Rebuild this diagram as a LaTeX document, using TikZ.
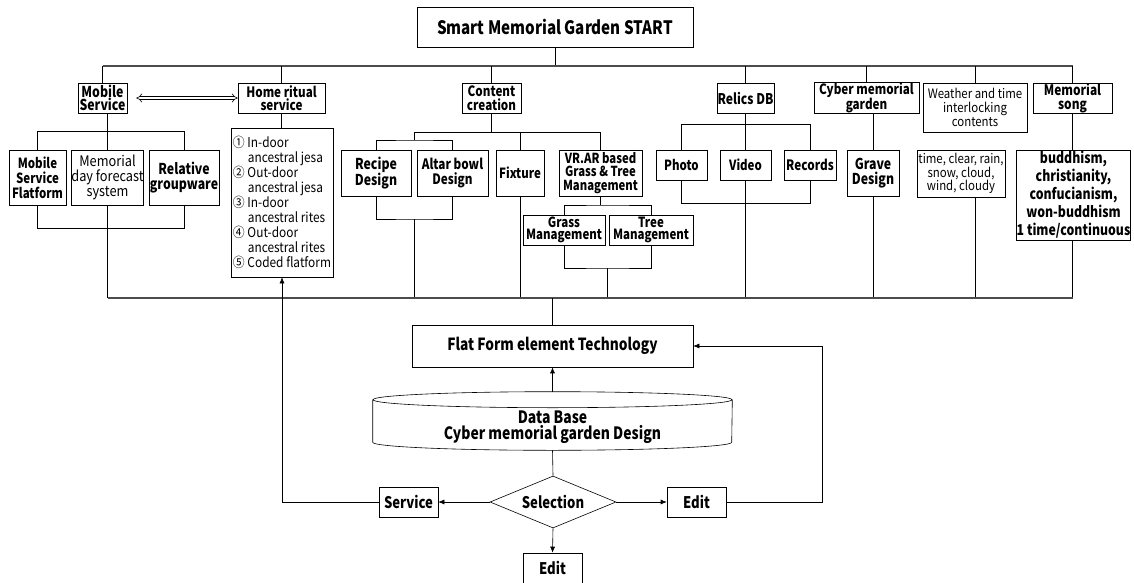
\documentclass[tikz,border=0pt]{standalone}
\usepackage{fontspec}
\setmainfont{Noto Sans CJK KR}[FakeStretch=0.88, BoldFeatures={FakeStretch=0.82}]
\usetikzlibrary{shapes.geometric,arrows.meta,calc}
\newcommand{\fsz}[2]{\fontsize{#1}{#2}\selectfont}
\tikzset{
  box/.style={draw, inner sep=0pt, align=center, font=\bfseries\fsz{14.2}{13.5}},
  sub/.style={box, font=\bfseries\fsz{15}{15}},
  plain/.style={box, font=\fsz{13}{14}},
  sz/.style 2 args={minimum width=#1pt, minimum height=#2pt},
  arr/.style={-{Latex[length=6pt,width=5pt]}},
  bus/.style={draw=black!70, line width=1.2pt}
}

\begin{document}
\begin{tikzpicture}[x=1pt, y=-1pt, line width=0.6pt]
      \useasboundingbox (0,0) rectangle (1134,583);
      \coordinate (busT) at (0,66);
      \coordinate (busB) at (0,298);
      \coordinate (ctop) at (414.5,140);
      \coordinate (cbot) at (414.5,219);
      \coordinate (vtop) at (607.5,205);
      \coordinate (vbot) at (607.5,268);
      \coordinate (back) at (822,0);

      \node[box, sz={276}{40}, font=\bfseries\fsz{18.5}{18}] (start) at (555,27) {Smart Memorial Garden START};

      \node[box, sz={49}{30}, font=\bfseries\fsz{15}{13.5}] (mob) at (102.5,98) {Mobile\\Service};
      \node[box, sz={87}{30}] (home) at (281.5,98) {Home ritual\\service};
      \node[box, sz={59}{30}] (content) at (491.5,98) {Content\\creation};
      \node[box, sz={57}{30}, font=\bfseries\fsz{14.7}{13.5}] (relics) at (745.5,98) {Relics DB};
      \node[box, sz={105}{30}] (cyber) at (866.5,98) {Cyber memorial\\garden};
      \node[plain, sz={104}{49}] (weather) at (975,107.5) {Weather and time\\interlocking\\contents};
      \node[box, sz={79}{30}, font=\bfseries\fsz{14.5}{13.5}] (song) at (1072.5,98) {Memorial\\song};

      \node[sub, sz={57}{55}, font=\bfseries\fsz{14}{15}] (msf) at (37.5,177.5) {Mobile\\Service\\Flatform};
      \node[plain, sz={71}{55}, font=\fsz{14.5}{15}] (mdf) at (107.5,177.5) {Memorial\\day forecast\\system};
      \node[sub, sz={70}{55}] (rg) at (184,177.5) {Relative\\groupware};
      \node[draw, sz={102}{149}, inner sep=0pt, align=left, font=\fsz{13.5}{15}] (rites) at (282,202.5)
        {① In-door\\\hspace*{1.1em}ancestral jesa\\② Out-door\\\hspace*{1.1em}ancestral jesa\\③ In-door\\\hspace*{1.1em}ancestral rites\\④ Out-door\\\hspace*{1.1em}ancestral rites\\⑤ Coded flatform};

      \node[sub, sz={70}{46}] (recipe) at (376,173) {Recipe\\Design};
      \node[sub, sz={71}{46}, font=\bfseries\fsz{14.3}{15}] (altar) at (452.5,173) {Altar bowl\\Design};
      \node[sub, sz={48}{46}, font=\bfseries\fsz{14}{15}] (fixture) at (520,173) {Fixture};
      \node[box, sz={83}{46}, font=\bfseries\fsz{13.8}{13.5}] (vr) at (600.5,173) {VR.AR based\\Grass \& Tree\\Management};
      \node[box, sz={82}{30}, font=\bfseries\fsz{14}{12.5}] (grass) at (564,230) {Grass\\Management};
      \node[box, sz={84}{30}, font=\bfseries\fsz{14}{12.5}] (tree) at (651,230) {Tree\\Management};

      \node[sub, sz={51}{30}, font=\bfseries\fsz{14}{15}] (photo) at (681.5,165) {Photo};
      \node[sub, sz={51}{30}, font=\bfseries\fsz{14}{15}] (video) at (745.5,165) {Video};
      \node[sub, sz={52}{30}, font=\bfseries\fsz{14.3}{15}] (records) at (810,165) {Records};
      \node[sub, sz={52}{46}] (grave) at (873,173) {Grave\\Design};
      \node[plain, sz={88}{47}, font=\fsz{13}{12}] (timeb) at (961,173.5) {time, clear, rain,\\snow, cloud,\\wind, cloudy};
      \node[sub, sz={113}{90}, font=\bfseries\fsz{15}{18}] (songs) at (1073.5,195) {buddhism,\\christianity,\\confucianism,\\won-buddhism\\1 time/continuous};

      \node[box, sz={281}{42}, font=\bfseries\fsz{16.7}{17}] (ff) at (552.5,346) {Flat Form element Technology};
      \node[sz={359}{46}, inner sep=0pt, align=center, font=\bfseries\fsz{17}{16}] (db) at (552.5,427) {Data Base\\Cyber memorial garden Design};
      \node[draw, diamond, aspect=2.4, sz={126}{52}, inner sep=0pt, font=\bfseries\fsz{16}{16}] (sel) at (553,502) {Selection};
      \node[box, sz={59}{30}, font=\bfseries\fsz{16}{16}] (service) at (408.5,502) {Service};
      \node[box, sz={59}{30}, font=\bfseries\fsz{16}{16}] (editr) at (696.5,502) {Edit};
      \node[box, sz={59}{30}, font=\bfseries\fsz{16}{16}] (editb) at (552.5,568) {Edit};
      \coordinate (dbtop) at ($(db.north)+(0,-12)$);

      \draw (start) -- (start |- busT);
      \draw[bus] (mob |- busT) -- (song |- busT);
      \foreach \n in {mob,home,content,relics,cyber,weather,song} {
        \draw (\n |- busT) -- (\n.north);
      }
      \draw[double, double distance=2.5pt, {Implies}-{Implies}, shorten <=9pt] (mob.east) -- (home.west);

      \draw (mob.south -| mdf) -- (mdf.north);
      \draw (msf.north) -- ++(0,-18) -| (rg.north);
      \draw (msf.south) -- ++(0,23) -| (rg.south);
      \draw (mdf.south) -- (mdf |- busB);
      \draw (home.south) -- (home.south |- rites.north);

      \draw (content.south) -- ++(0,19) coordinate (cmid);
      \draw (ctop) -- (ctop |- cmid) -- (vr |- cmid) -- (vr.north);
      \draw (fixture.north) -- (fixture |- cmid);
      \draw (recipe.north) |- (ctop) -| (altar.north);
      \draw (recipe.south) |- (cbot) -| (altar.south);
      \draw (cbot) -- (cbot |- busB);
      \draw (fixture.south) -- (fixture |- busB);
      \draw (vr.south) -- (vr.south |- vtop);
      \draw (grass.north) |- (vtop) -| (tree.north);
      \draw (grass.south) |- (vbot) -| (tree.south);
      \draw (vbot) -- (vbot |- busB);

      \draw (relics.south) -- (video.north);
      \draw (photo.north) -- ++(0,-25) -| (records.north);
      \draw (photo.south) -- ++(0,23) -| (records.south);
      \draw (video.south) -- (video |- busB);
      \draw (cyber.south -| grave) -- (grave.north);
      \draw (grave.south) -- (grave |- busB);
      \draw (timeb.south -| weather) -- (weather |- busB);
      \draw (song.south) -- (song.south |- songs.north);
      \draw (song |- songs.south) -- (song |- busB);
      \draw[bus] (mdf |- busB) -- (song |- busB);

      \draw ($(db.north)+(0,-4)$) ellipse[x radius=179.5, y radius=8];
      \draw ($(db.north west)+(0,-4)$) -- ($(db.south west)+(0,-8)$)
        arc[start angle=180, end angle=0, x radius=179.5, y radius=8] -- ($(db.north east)+(0,-4)$);

      \draw (ff.north) -- (ff |- busB);
      \draw[arr] (dbtop) -- (ff.south);
      \draw (db.south) -- (sel.north);
      \draw[arr] (sel.west) -- (service.east);
      \draw[arr] (sel.east) -- (editr.west);
      \draw[arr] (sel.south) -- (editb.north);
      \draw[arr] (service.west) -| (rites.south);
      \draw[arr] (editr.east) -| (back |- ff.east) -- (ff.east);
\end{tikzpicture}
\end{document}
